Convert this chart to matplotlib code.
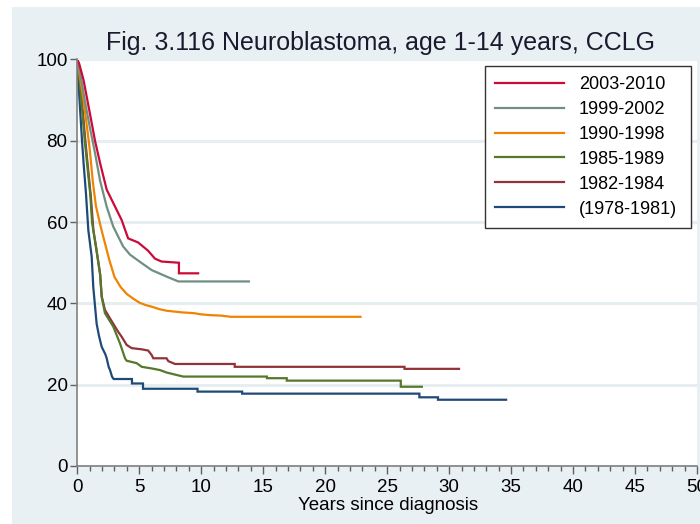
import matplotlib
matplotlib.use("Agg")
import matplotlib.pyplot as plt
from matplotlib.patches import Rectangle
from matplotlib.ticker import MultipleLocator

plt.rcParams['font.family'] = ['Liberation Sans', 'DejaVu Sans']

# Kaplan-Meier survival (%) by period of diagnosis, read as (years, survival)
labels = ['2003-2010', '1999-2002', '1990-1998', '1985-1989', '1982-1984', '(1978-1981)']
colors = ['#cc0a3a', '#6f9080', '#f08400', '#55782a', '#913338', '#1f4a78']

t_2003 = [0, 0.15, 0.5, 1.0, 1.43, 1.84, 2.37, 2.9, 3.58, 4.1, 4.9, 5.7, 6.27, 6.8, 8.2, 8.2, 9.75]
s_2003 = [100, 99, 95, 87, 80, 74.5, 68, 64.7, 60.5, 56, 55, 53, 51, 50.3, 50, 47.4, 47.4]

t_1999 = [0, 0.15, 0.6, 1.0, 1.43, 1.83, 2.37, 2.9, 3.7, 4.25, 5.2, 6.0, 7.2, 8.15, 13.85]
s_1999 = [100, 98, 90, 83.5, 77, 70.3, 63.8, 58.9, 54, 52, 49.9, 48.2, 46.6, 45.4, 45.4]

t_1990 = [0, 0.25, 0.5, 0.8, 1.0, 1.25, 1.5, 1.8, 2.0, 2.3, 2.6, 3.0, 3.5, 4.0, 4.5, 5.0,
          5.5, 6.0, 6.6, 7.2, 8.4, 9.4, 10.0, 10.8, 11.6, 12.4, 22.85]
s_1990 = [100, 95, 90, 83, 78, 70, 64, 60, 57.5, 54, 50.5, 46.5, 44, 42.3, 41.2, 40.2,
          39.6, 39.2, 38.6, 38.2, 37.8, 37.6, 37.3, 37.1, 37.0, 36.7, 36.7]

t_1985 = [0, 0.16, 0.6, 1.05, 1.19, 1.29, 1.56, 1.83, 1.97, 2.23, 2.9, 3.44, 3.85, 3.98,
          4.79, 5.2, 6.0, 6.67, 7.2, 8.0, 8.55, 15.3, 15.3, 16.9, 16.9, 26.1, 26.1, 27.8]
s_1985 = [100, 96, 80, 66.7, 60, 58, 53, 47.4, 41.6, 37.6, 34.3, 30.2, 26.5, 25.9,
          25.3, 24.4, 24.0, 23.6, 23.0, 22.4, 22.0, 22.0, 21.6, 21.6, 21.0, 21.0, 19.5, 19.5]

t_1982 = [0, 0.2, 0.65, 1.1, 1.3, 1.6, 1.85, 1.97, 2.23, 2.64, 3.04, 3.3, 3.58, 3.98, 4.38,
          5.2, 5.72, 6.0, 6.13, 7.2, 7.34, 7.88, 12.7, 12.7, 26.4, 26.4, 30.8]
s_1982 = [100, 96, 80, 66, 58, 52, 47, 41.7, 38.4, 36.3, 34.3, 33, 31.8, 29.8, 29.0,
          28.7, 28.4, 27.3, 26.5, 26.5, 25.8, 25.1, 25.1, 24.4, 24.4, 23.9, 23.9]

t_1978 = [0, 0.06, 0.16, 0.38, 0.52, 0.7, 0.89, 1.16, 1.29, 1.56, 1.75, 1.97, 2.26, 2.37,
          2.53, 2.64, 2.8, 2.93, 4.41, 4.41, 5.3, 5.3, 9.7, 9.7, 13.3, 13.3, 27.6, 27.6,
          29.1, 29.1, 34.6]
s_1978 = [100, 96, 91, 80, 74, 67, 58, 51.5, 44, 35, 32, 29.3, 27.5, 26.5,
          24.4, 23.6, 22, 21.4, 21.4, 20.3, 20.3, 19.0, 19.0, 18.3, 18.3, 17.8, 17.8, 16.9,
          16.9, 16.3, 16.3]

series = [(t_2003, s_2003), (t_1999, s_1999), (t_1990, s_1990),
          (t_1985, s_1985), (t_1982, s_1982), (t_1978, s_1978)]

panel = '#e9f0f3'
fig = plt.figure(figsize=(7, 5.24), dpi=100, facecolor='white')
fig.add_artist(Rectangle((12 / 700, 0), 1, 1 - 7 / 524, transform=fig.transFigure,
                         facecolor=panel, edgecolor='none', zorder=-1))
ax = fig.add_axes([77.3 / 700, 58 / 524, 619.7 / 700, 406.5 / 524])
ax.set_facecolor('white')

handles = []
for (t, s), lab, col in reversed(list(zip(series, labels, colors))):
    ln, = ax.plot(t, s, color=col, lw=1.6, label=lab, solid_joinstyle='miter')
    handles.append(ln)
handles = handles[::-1]

ax.set_xlim(0, 50)
ax.set_ylim(0, 100)
ax.set_yticks([0, 20, 40, 60, 80, 100])
ax.xaxis.set_major_locator(MultipleLocator(5))
ax.xaxis.set_minor_locator(MultipleLocator(1))
ax.grid(axis='y', color='#e6eef2', lw=2.2)
ax.set_axisbelow(True)

for side in ['top', 'right']:
    ax.spines[side].set_visible(False)
for side in ['left', 'bottom']:
    ax.spines[side].set_color('#808080')
    ax.spines[side].set_linewidth(1.2)
ax.tick_params(axis='both', which='major', color='#606060', labelsize=13.5, width=1)
ax.tick_params(axis='y', length=5, pad=2)
ax.tick_params(axis='x', which='major', length=6, pad=3)
ax.tick_params(axis='x', which='minor', length=3.5, color='#606060', width=1)

leg = ax.legend(handles=handles, loc='upper left',
                bbox_to_anchor=(0.658, 0.588, 0.332, 0.396), mode='expand',
                borderaxespad=0, fontsize=13, handlelength=3.8, handletextpad=0.85,
                labelspacing=0.44, borderpad=0.55, frameon=True, fancybox=False,
                framealpha=1, edgecolor='#333333')
leg.get_frame().set_linewidth(1.0)

fig.text(0.544, 1 - 50 / 524, 'Fig. 3.116 Neuroblastoma, age 1-14 years, CCLG',
         ha='center', va='baseline', fontsize=18, color='#1a1a2e')
fig.text(0.554, 1 - 506 / 524, 'Years since diagnosis', ha='center', va='center',
         fontsize=13.5)

fig.savefig('out.png', dpi=100, facecolor=fig.get_facecolor())
